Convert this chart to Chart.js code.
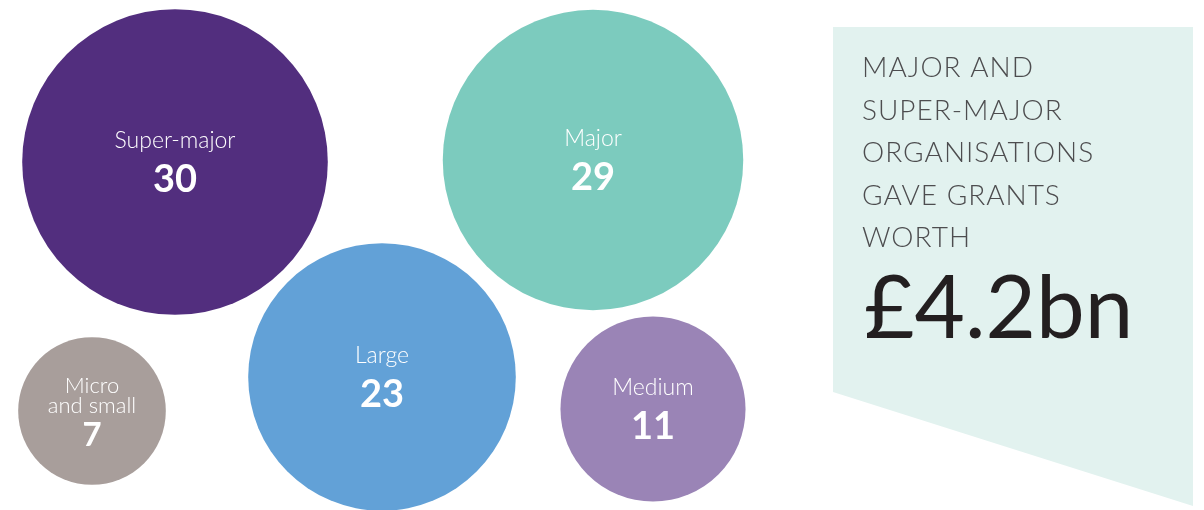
<!DOCTYPE html>
<html>
<head>
<meta charset="utf-8">
<script src="https://cdn.jsdelivr.net/npm/chart.js@4.4.1/dist/chart.umd.min.js"></script>
<style>
  html, body { margin: 0; padding: 0; background: #fff; }
  #wrap { position: relative; width: 1204px; height: 510px; }
</style>
</head>
<body>
<div id="wrap"><canvas id="chart" width="1204" height="510"></canvas></div>
<script>
// number of grant-making organisations by size band
var sizeLabels = ['Super-major', 'Major', 'Large', 'Micro\nand small', 'Medium'];
var orgCounts = [30, 29, 23, 7, 11];
var bandColours = ['#522e7e', '#7ccbbe', '#62a1d7', '#a89e9b', '#9a84b6'];

// where each bubble sits in the packing (canvas units)
var layoutX = [175, 593, 382, 92, 653];
var layoutY = [162, 160, 377, 411, 409];

var calloutLines = ['MAJOR AND', 'SUPER-MAJOR', 'ORGANISATIONS', 'GAVE GRANTS', 'WORTH'];
var calloutFigure = '£4.2bn';

// bubble area is proportional to the count
var RADIUS_SCALE = 27.9;

var points = [];
for (var i = 0; i < orgCounts.length; i++) {
    points.push({ x: layoutX[i], y: layoutY[i], r: RADIUS_SCALE * Math.sqrt(orgCounts[i]) });
}

var calloutPanel = {
    id: 'calloutPanel',
    beforeDatasetsDraw: function(chart) {
        var ctx = chart.ctx;
        ctx.save();
        ctx.fillStyle = '#e2f2ef';
        ctx.beginPath();
        ctx.moveTo(833, 27);
        ctx.lineTo(1193, 27);
        ctx.lineTo(1193, 506);
        ctx.lineTo(833, 392);
        ctx.closePath();
        ctx.fill();

        ctx.fillStyle = '#4d4d4f';
        ctx.font = '300 28px Lato';
        ctx.letterSpacing = '1px';
        ctx.textBaseline = 'alphabetic';
        ctx.textAlign = 'left';
        for (var i = 0; i < calloutLines.length; i++) {
            ctx.fillText(calloutLines[i], 862, 77 + i * 42.5);
        }

        ctx.letterSpacing = '0px';
        ctx.fillStyle = '#231f20';
        ctx.font = '400 87px Lato';
        ctx.fillText(calloutFigure, 864, 338);
        ctx.restore();
    }
};

var bubbleLabels = {
    id: 'bubbleLabels',
    afterDatasetsDraw: function(chart) {
        var ctx = chart.ctx;
        var meta = chart.getDatasetMeta(0);
        ctx.save();
        ctx.fillStyle = '#ffffff';
        ctx.textAlign = 'center';
        ctx.textBaseline = 'alphabetic';
        meta.data.forEach(function(el, i) {
            var lines = sizeLabels[i].split('\n');
            var small = lines.length > 1;
            var labelSize = small ? 22 : 23;
            var numSize = small ? 33 : 38;
            var lineGap = 20;
            var top = small ? el.y - 18 : el.y - 14;
            ctx.font = '300 ' + labelSize + 'px Lato';
            lines.forEach(function(t, k) {
                ctx.fillText(t, el.x, top + k * lineGap);
            });
            ctx.font = '700 ' + numSize + 'px Lato';
            var numY = top + (lines.length - 1) * lineGap + (small ? 33 : 44);
            ctx.fillText(String(orgCounts[i]), el.x, numY);
        });
        ctx.restore();
    }
};

new Chart(document.getElementById('chart'), {
    type: 'bubble',
    data: {
        labels: sizeLabels,
        datasets: [{
            data: points,
            backgroundColor: bandColours,
            borderWidth: 0,
            hoverBorderWidth: 0,
            clip: false
        }]
    },
    options: {
        responsive: false,
        animation: false,
        events: [],
        layout: { padding: 0, autoPadding: false },
        plugins: {
            legend: { display: false },
            tooltip: { enabled: false }
        },
        scales: {
            x: { type: 'linear', min: 0, max: 1204, display: false },
            y: { type: 'linear', min: 0, max: 510, reverse: true, display: false }
        }
    },
    plugins: [calloutPanel, bubbleLabels]
});
</script>
</body>
</html>
